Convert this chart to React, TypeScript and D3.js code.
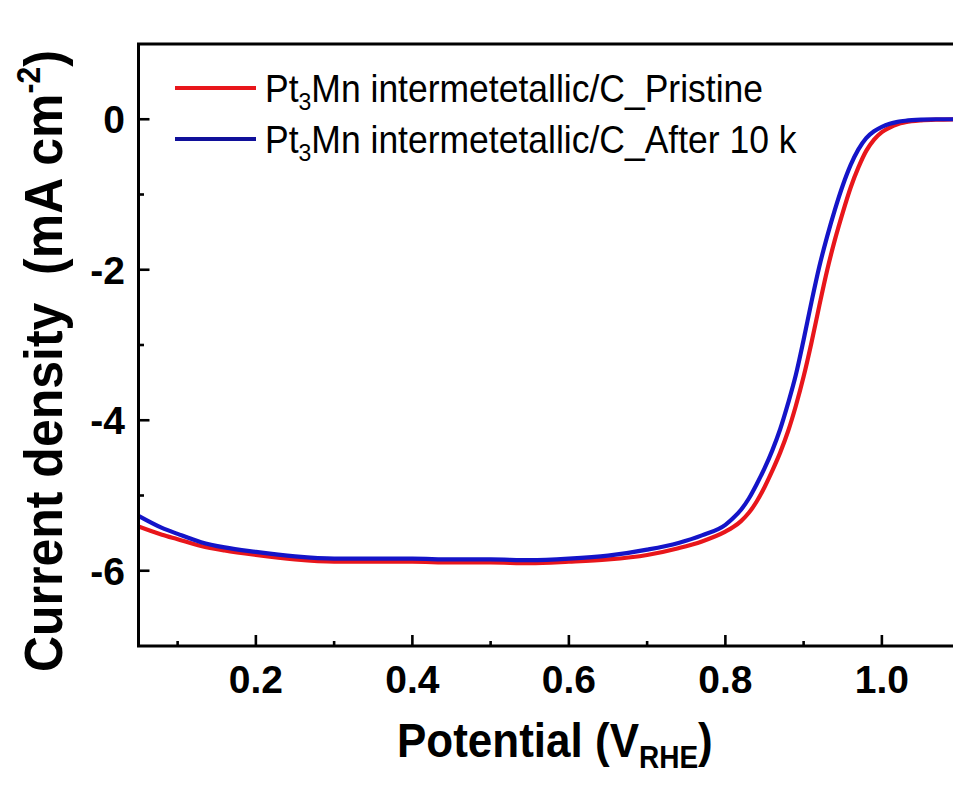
import React from "react";
import * as d3 from "d3";

const potential = [0.05,0.08,0.10,0.13,0.16,0.20,0.25,0.30,0.35,0.40,0.45,0.50,0.55,0.60,0.65,0.70,0.74,0.77,0.80,0.81,0.82,0.83,0.84,0.85,0.86,0.87,0.88,0.89,0.90,0.91,0.92,0.93,0.94,0.95,0.96,0.97,0.98,0.99,1.00,1.01,1.02,1.03,1.05,1.07,1.10];

const pristine = [-5.41,-5.52,-5.58,-5.67,-5.73,-5.79,-5.85,-5.88,-5.88,-5.88,-5.89,-5.89,-5.90,-5.88,-5.85,-5.79,-5.70,-5.61,-5.48,-5.42,-5.34,-5.23,-5.08,-4.89,-4.67,-4.43,-4.15,-3.81,-3.42,-2.97,-2.48,-2.01,-1.60,-1.24,-0.91,-0.64,-0.42,-0.27,-0.17,-0.11,-0.065,-0.04,-0.015,-0.005,0.0];

const after10k = [-5.27,-5.43,-5.51,-5.62,-5.69,-5.75,-5.81,-5.84,-5.84,-5.84,-5.85,-5.85,-5.86,-5.84,-5.80,-5.72,-5.63,-5.53,-5.39,-5.30,-5.19,-5.04,-4.85,-4.64,-4.40,-4.12,-3.78,-3.40,-2.93,-2.43,-1.96,-1.56,-1.20,-0.88,-0.61,-0.40,-0.25,-0.16,-0.10,-0.06,-0.035,-0.02,-0.005,0.0,0.0];

const xMajor = [0.2, 0.4, 0.6, 0.8, 1.0];
const xMinor = [0.1, 0.3, 0.5, 0.7, 0.9];
const xLabels = ["0.2", "0.4", "0.6", "0.8", "1.0"];
const yMajor = [0, -2, -4, -6];
const yMinor = [-1, -3, -5];
const yLabels = ["0", "-2", "-4", "-6"];

const seriesNames = ["intermetetallic/C_Pristine", "intermetetallic/C_After 10 k"];
const seriesColors = ["#e8161b", "#1414c8"];
const legendColors = ["#e8161b", "#10109a"];

const W = 953, H = 787;
const left = 138.5, top = 44, bottom = 646;
const FONT = "'Liberation Sans', Arial, Helvetica, sans-serif";

export default function App() {
  const x = d3.scaleLinear().domain([0.05, 1.1]).range([left, left + 1.05 * 782.5]);
  const y = d3.scaleLinear().domain([-7, 1]).range([bottom, top]);
  const line = d3.line<number>()
    .x((_, i) => x(potential[i]))
    .y((d) => y(d))
    .curve(d3.curveMonotoneX);
  const series = [pristine, after10k];

  return (
    <svg width={W} height={H} style={{ position: "absolute", left: 0, top: 0, background: "#fff" }}>
      <rect x={0} y={0} width={W} height={H} fill="#fff" />
      <defs>
        <clipPath id="plot">
          <rect x={left} y={top} width={W - left} height={bottom - top} />
        </clipPath>
      </defs>
      <g clipPath="url(#plot)">
        {series.map((s, i) => (
          <path key={i} d={line(s) || ""} fill="none" stroke={seriesColors[i]} strokeWidth={4.2} strokeLinejoin="round" />
        ))}
      </g>
      {/* axes frame */}
      <line x1={left} y1={top} x2={left} y2={bottom} stroke="#000" strokeWidth={3} />
      <line x1={left - 1.5} y1={bottom} x2={W} y2={bottom} stroke="#000" strokeWidth={3} />
      <line x1={left - 1.5} y1={top} x2={W} y2={top} stroke="#000" strokeWidth={3} />
      {/* x ticks */}
      {xMajor.map((v, i) => (
        <g key={"xm" + i}>
          <line x1={x(v)} x2={x(v)} y1={bottom} y2={bottom - 11} stroke="#000" strokeWidth={2.6} />
          <text x={x(v)} y={693} textAnchor="middle" fontFamily={FONT} fontWeight="bold" fontSize={39}>{xLabels[i]}</text>
        </g>
      ))}
      {xMinor.map((v, i) => (
        <line key={"xn" + i} x1={x(v)} x2={x(v)} y1={bottom} y2={bottom - 5} stroke="#000" strokeWidth={2.6} />
      ))}
      {/* y ticks */}
      {yMajor.map((v, i) => (
        <g key={"ym" + i}>
          <line x1={left} x2={left + 11} y1={y(v)} y2={y(v)} stroke="#000" strokeWidth={2.6} />
          <text x={125} y={y(v) + 14} textAnchor="end" fontFamily={FONT} fontWeight="bold" fontSize={39}>{yLabels[i]}</text>
        </g>
      ))}
      {yMinor.map((v, i) => (
        <line key={"yn" + i} x1={left} x2={left + 5.5} y1={y(v)} y2={y(v)} stroke="#000" strokeWidth={2.6} />
      ))}
      {/* legend */}
      {seriesNames.map((name, i) => (
        <g key={"lg" + i}>
          <line x1={175} x2={256} y1={88 + i * 51} y2={88 + i * 51} stroke={legendColors[i]} strokeWidth={4} />
          <g transform={`translate(265,${101.5 + i * 51}) scale(1,1.08)`}>
            <text x={0} y={0} fontFamily={FONT} fontSize={35.5} fill="#000" style={{ whiteSpace: "pre" }}>
              Pt<tspan fontSize={23} dy={7.5}>3</tspan><tspan dy={-7.5}>{"Mn " + name}</tspan>
            </text>
          </g>
        </g>
      ))}
      {/* x title */}
      <g transform="translate(397,757) scale(1,1.1)">
        <text x={0} y={0} fontFamily={FONT} fontWeight="bold" fontSize={44} style={{ whiteSpace: "pre" }}>
          Potential (V<tspan fontSize={28} dy={10}>RHE</tspan><tspan dy={-10}>)</tspan>
        </text>
      </g>
      {/* y title */}
      <g transform="translate(62,672) rotate(-90) scale(1,1.08)">
        <text x={0} y={0} fontFamily={FONT} fontWeight="bold" fontSize={50} style={{ whiteSpace: "pre" }}>
          Current density  (mA cm<tspan fontSize={30} dy={-20}>-2</tspan><tspan dy={20}>)</tspan>
        </text>
      </g>
    </svg>
  );
}
